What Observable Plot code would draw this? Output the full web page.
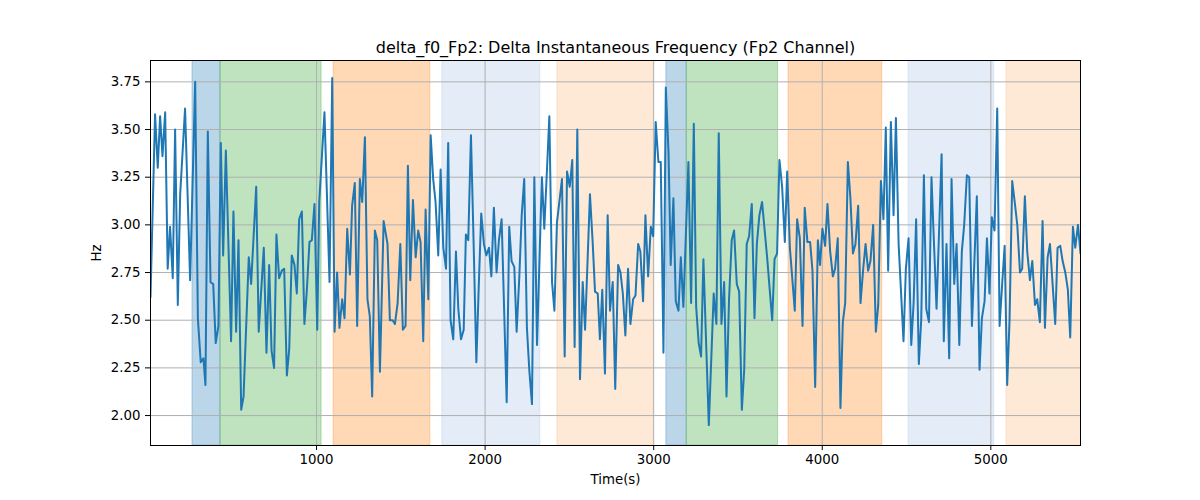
<!DOCTYPE html>
<html><head><meta charset="utf-8">
<script src="https://cdn.jsdelivr.net/npm/d3@7"></script>
<script src="https://cdn.jsdelivr.net/npm/@observablehq/plot@0.6"></script>
<style>body{margin:0;background:#fff} svg{font-family:"DejaVu Sans";}</style>
</head><body><div id="chart"></div>
<script>
const title = "delta_f0_Fp2: Delta Instantaneous Frequency (Fp2 Channel)";
const xLabel = "Time(s)";
const yLabel = "Hz";
const xTicks = [1000, 2000, 3000, 4000, 5000];
const yTicks = [2.00, 2.25, 2.50, 2.75, 3.00, 3.25, 3.50, 3.75];

const times = [15,42,58,72,86,102,117,131,147,161,177,191,220,250,280,296,313,329,341,355,371,387,402,418,432,446,462,493,507,523,537,553,567,598,612,642,657,687,703,719,733,748,762,778,794,808,824,838,853,869,883,897,913,928,942,958,972,988,1004,1016,1047,1077,1093,1107,1122,1136,1152,1166,1182,1198,1211,1227,1241,1257,1271,1287,1302,1316,1330,1346,1360,1376,
1398,1421,1435,1451,1465,1481,1497,1512,1528,1542,1556,1572,1588,1603,1617,1633,1647,1663,1677,1692,1706,1722,1736,1752,1768,1781,1795,1811,1827,1841,1857,1873,1886,1900,1916,1932,1948,1962,1977,1993,2007,2023,2037,2052,2068,2082,2098,2128,2143,2157,2173,2187,2203,2217,2232,2248,2262,2278,2292,2308,2321,2337,2351,2367,2381,2397,2411,2426,2456,2472,2486,2502,2517,2531,2547,2563,2579,2593,2622,2638,2652,2668,2681,2695,2711,2727,2741,2757,2772,
2789,2803,2817,2832,2848,2862,2878,2892,2908,2921,2937,2951,2967,2983,2997,3012,3028,3042,3058,3072,3088,3101,3117,3131,3147,3161,3176,3206,3222,3238,3252,3267,3281,3295,3327,3356,3372,3386,3402,3418,3432,3447,3463,3477,3493,3507,3523,3537,3552,3566,3582,3598,3612,3627,3643,3673,3703,3717,3732,3746,3762,3778,3792,3808,3837,3851,3867,3883,3896,3912,3928,3942,3958,3974,3987,4001,4017,4031,4047,4063,4076,4092,4108,4122,4136,4152,4167,4182,
4197,4213,4227,4243,4257,4272,4286,4302,4318,4332,4348,4363,4377,4391,4407,4423,4437,4453,4482,4496,4512,4528,4542,4557,4573,4587,4603,4617,4633,4648,4662,4678,4708,4721,4737,4753,4767,4783,4797,4813,4828,4842,4858,4872,4888,4917,4933,4947,4963,4977,4992,5006,5022,5038,5052,5068,5082,5097,5111,5127,5143,5157,5173,5186,5202,5216,5232,5246,5262,5275,5291,5307,5321,5337,5351,5382,5396,5412,5426,5442,5457,5471,5487,5501,5517,5532];

const values = [2.62,3.58,3.30,3.57,3.36,3.59,2.77,2.99,2.72,3.50,2.58,3.16,3.61,2.71,3.75,2.51,2.28,2.30,2.16,3.49,2.70,2.69,2.38,2.47,3.43,2.84,3.39,2.39,3.07,2.44,2.92,2.03,2.10,2.83,2.69,3.20,2.44,2.88,2.33,2.79,2.34,2.25,2.95,2.72,2.76,2.77,2.21,2.35,2.84,2.79,2.64,3.03,3.07,2.48,2.65,2.91,2.92,3.11,2.45,3.12,3.59,2.70,3.77,2.44,2.75,2.46,2.61,2.51,2.98,2.74,3.10,3.22,2.47,3.24,3.12,3.46,2.61,2.52,2.10,2.97,2.92,2.23,
3.02,2.90,2.50,2.50,2.48,2.59,2.90,2.45,2.47,3.31,2.71,3.13,2.83,2.97,2.91,2.39,3.08,2.61,3.47,3.24,3.12,2.84,3.29,2.88,2.77,3.43,2.50,2.40,2.86,2.56,2.40,2.45,2.95,2.92,3.47,2.90,2.28,2.67,3.06,2.90,2.84,2.88,2.73,3.09,2.75,2.92,3.03,2.07,2.99,2.81,2.78,2.44,2.73,3.05,3.24,2.46,2.24,2.06,3.25,2.37,2.77,3.25,2.98,3.29,3.57,2.70,2.55,3.01,3.24,2.31,3.28,3.20,3.34,2.36,3.50,2.19,2.70,2.45,3.16,2.91,2.65,2.64,2.40,2.66,2.22,3.05,2.55,2.70,2.14,
2.79,2.75,2.64,2.42,2.77,2.48,2.61,2.63,2.90,2.86,2.60,3.05,2.73,2.99,2.94,3.54,3.33,3.33,2.33,3.72,3.38,2.79,3.14,2.60,2.55,2.83,2.57,3.33,2.59,3.53,2.57,2.38,2.31,2.82,1.95,2.64,2.48,3.48,2.48,2.70,2.10,2.61,2.92,2.97,2.69,2.65,2.03,2.24,2.90,2.94,3.11,2.51,2.90,3.05,3.12,2.83,2.50,2.82,2.85,3.34,3.20,2.91,3.28,2.88,2.55,3.03,2.93,2.47,3.09,2.91,2.91,2.76,2.15,2.92,2.79,2.98,2.89,3.11,2.86,2.73,2.77,2.93,2.04,2.49,2.59,3.33,3.14,2.85,
2.90,3.10,2.59,2.77,2.90,2.76,2.81,3.00,2.44,2.58,3.23,3.03,3.51,2.76,3.54,3.05,3.56,2.90,2.39,2.77,2.93,2.37,2.59,3.03,2.27,2.50,3.26,2.56,2.49,3.25,2.92,2.56,3.37,2.39,2.90,2.30,3.24,2.69,2.90,2.37,2.86,3.00,3.26,3.25,2.47,3.15,2.24,2.51,2.60,2.93,2.64,3.04,2.97,3.61,2.47,2.70,2.89,2.16,2.50,3.23,3.11,3.00,2.75,2.77,3.15,2.86,2.71,2.81,2.58,2.61,2.49,3.02,2.46,2.83,2.90,2.48,2.88,2.89,2.81,2.75,2.66,2.41,2.99,2.88,3.00,2.85];

const spanStart = [264, 430, 1101, 1746, 2429, 3075, 3196, 3800, 4512, 5093];
const spanEnd   = [430, 1030, 1675, 2328, 3000, 3196, 3738, 4356, 5020, 5560];
const spanColor = ["#1f77b4", "#2ca02c", "#ff7f0e", "#a7c0e3", "#f8b676", "#1f77b4", "#2ca02c", "#ff7f0e", "#a7c0e3", "#f8b676"];

const data = times.map((t, i) => ({t, v: values[i]}));
const spans = spanStart.map((s, i) => ({x1: s, x2: spanEnd[i], c: spanColor[i]}));

const chart = Plot.plot({
  width: 1200, height: 500,
  marginLeft: 150, marginRight: 120, marginTop: 60, marginBottom: 55,
  style: {fontFamily: "DejaVu Sans", fontSize: "13.33px", background: "white", color: "black"},
  x: {domain: [times[0], times[times.length - 1]]},
  y: {domain: [1.843, 3.862]},
  color: {type: "identity"},
  marks: [
    Plot.rect(spans, {x1: "x1", x2: "x2", fill: "c", fillOpacity: 0.3, stroke: "c", strokeOpacity: 0.3, strokeWidth: 1, clip: true}),
    Plot.gridX(xTicks, {stroke: "#b0b0b0", strokeOpacity: 1, strokeWidth: 1}),
    Plot.gridY(yTicks, {stroke: "#b0b0b0", strokeOpacity: 1, strokeWidth: 1}),
    Plot.line(data, {x: "t", y: "v", stroke: "#1f77b4", strokeWidth: 2, clip: true}),
    Plot.frame({stroke: "black", strokeWidth: 1}),
    Plot.axisX(xTicks, {tickSize: 5, tickPadding: 4, fontSize: 13.33, tickFormat: d3.format("d"), label: xLabel, labelAnchor: "center", labelArrow: "none", labelOffset: 38}),
    Plot.axisY(yTicks, {tickSize: 5, tickPadding: 5, fontSize: 13.33, tickFormat: d3.format(".2f"), label: yLabel, labelAnchor: "center", labelArrow: "none", labelOffset: 59}),
    Plot.text([title], {text: d => d, frameAnchor: "top", lineAnchor: "bottom", dy: -8, fontSize: 16})
  ]
});
document.getElementById("chart").appendChild(chart);
</script>
</body></html>
